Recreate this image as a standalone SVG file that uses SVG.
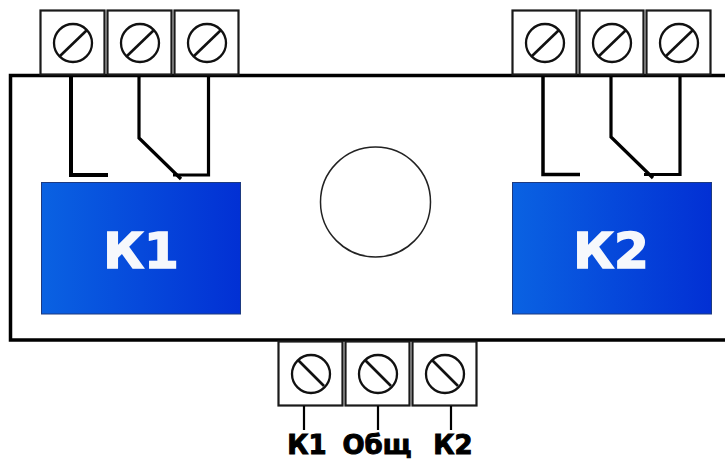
<svg xmlns="http://www.w3.org/2000/svg" width="725" height="459" viewBox="0 0 725 459">
<defs>
<linearGradient id="blue" x1="0" y1="0" x2="1" y2="0"><stop offset="0" stop-color="#0a62e2"/><stop offset="1" stop-color="#0230d4"/></linearGradient>
<g id="term"><rect x="0.500" y="0.500" width="64" height="64" fill="#fff" stroke="#1a1a1a" stroke-width="2.200"/><circle cx="33" cy="33" r="19" fill="none" stroke="#111" stroke-width="2.300"/></g>
</defs>
<style>
.w{fill:none;stroke:#000;stroke-width:3.200}
.s{stroke:#111;stroke-width:2.600;fill:none}
.k{fill:url(#blue);stroke:#1d3a80;stroke-width:1}
.big{font:bold 50px "DejaVu Sans",sans-serif;fill:#f6f8fc;stroke:#f6f8fc;stroke-width:1.600;text-anchor:middle}
.lab{font:bold 26px "DejaVu Sans",sans-serif;fill:#000;stroke:#000;stroke-width:1;text-anchor:middle}
</style>
<rect width="725" height="459" fill="#fff"/>
<g id="body"><path d="M725 75.500H10.500V340H725" fill="none" stroke="#000" stroke-width="3.500"/></g>
<g id="t1"><use href="#term" x="40" y="10"/><path class="s" d="M60 56L87 30"/></g>
<g id="t2"><use href="#term" x="107" y="10"/><path class="s" d="M127 56L154 30"/></g>
<g id="t3"><use href="#term" x="174" y="10"/><path class="s" d="M194 56L221 30"/></g>
<g id="t4"><use href="#term" x="512" y="10"/><path class="s" d="M532 56L559 30"/></g>
<g id="t5"><use href="#term" x="579" y="10"/><path class="s" d="M599 56L626 30"/></g>
<g id="t6"><use href="#term" x="646" y="10"/><path class="s" d="M666 56L693 30"/></g>
<g id="t7"><use href="#term" x="278" y="341"/><path class="s" d="M298 360L324 386"/></g>
<g id="t8"><use href="#term" x="345" y="341"/><path class="s" d="M365 360L391 386"/></g>
<g id="t9"><use href="#term" x="412" y="341"/><path class="s" d="M432 360L458 386"/></g>
<g id="connectors">
<path class="w" style="stroke-width:4" d="M71 76V175H108"/>
<path class="w" d="M139 76V138L181 179"/>
<path class="w" d="M208.500 76V175H173"/>
<path class="w" style="stroke-width:3.500" d="M543 76V174.500H580"/>
<path class="w" d="M611 76V137L653 178"/>
<path class="w" d="M680 76V174.500H644"/>
<path class="w" style="stroke-width:2.200" d="M304 406V430M378 406V430M451 406V430"/>
</g>
<g id="k1"><rect class="k" x="41.500" y="182.500" width="199" height="131.500"/><text class="big" x="141" y="268">К1</text></g>
<g id="k2"><rect class="k" x="512.500" y="182.500" width="199" height="131.500"/><text class="big" x="611" y="268">К2</text></g>
<g id="dial"><circle cx="375.500" cy="202" r="55" fill="#fff" stroke="#222" stroke-width="1.500"/></g>
<g id="labels">
<text class="lab" x="307" y="454">К1</text>
<text class="lab" x="377" y="454">Общ</text>
<text class="lab" x="453" y="454">К2</text>
</g>
</svg>
